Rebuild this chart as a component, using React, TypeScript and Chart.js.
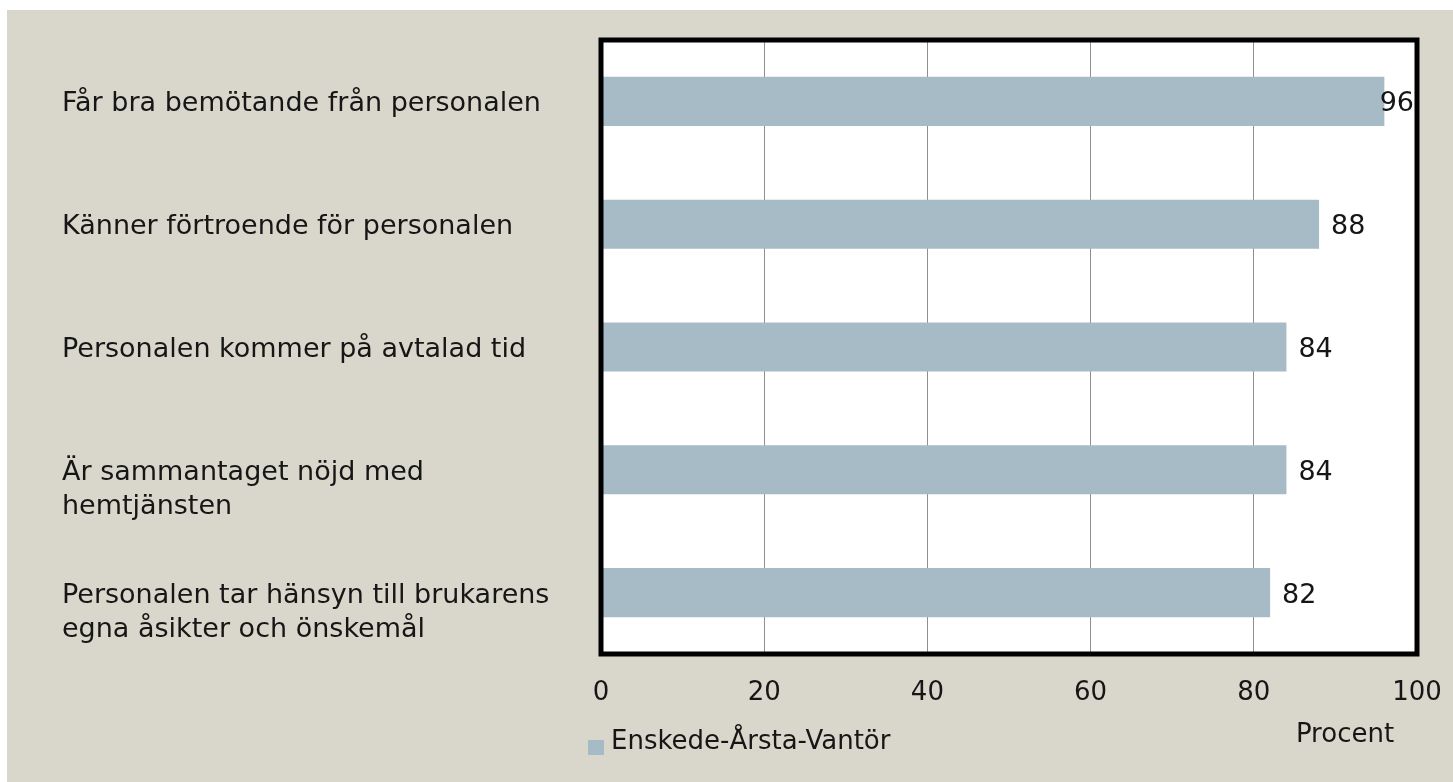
import React, { useEffect, useRef } from 'react';
import { Chart, registerables } from 'chart.js';

Chart.register(...registerables);

// ---- data ----
const categories: string[][] = [
  ['Får bra bemötande från personalen'],
  ['Känner förtroende för personalen'],
  ['Personalen kommer på avtalad tid'],
  ['Är sammantaget nöjd med', 'hemtjänsten'],
  ['Personalen tar hänsyn till brukarens', 'egna åsikter och önskemål'],
];
const seriesName = 'Enskede-Årsta-Vantör';
const values = [96, 88, 84, 84, 82];
const xTicks = [0, 20, 40, 60, 80, 100];
const axisTitle = 'Procent';

// ---- styles ----
const FONT = '"DejaVu Sans", sans-serif';
const TEXT = '#161616';
const BAR = '#A7BBC6';
const BG = '#D9D7CB';
const W = 1453;
const H = 782;

const decorPlugin = {
  id: 'decor',
  beforeDraw(chart: any) {
    const { ctx, chartArea: a } = chart;
    ctx.save();
    ctx.fillStyle = '#ffffff';
    ctx.fillRect(0, 0, W, H);
    ctx.fillStyle = BG;
    ctx.fillRect(7, 10, W - 7, H - 10);
    ctx.fillStyle = '#ffffff';
    ctx.fillRect(a.left, a.top, a.right - a.left, a.bottom - a.top);
    ctx.restore();
  },
  afterDatasetsDraw(chart: any) {
    const { ctx, chartArea: a, scales } = chart;
    const ys = scales.y;
    const xs = scales.x;
    ctx.save();
    // plot border
    ctx.lineWidth = 5;
    ctx.strokeStyle = '#000000';
    ctx.lineJoin = 'miter';
    ctx.strokeRect(a.left, a.top, a.right - a.left, a.bottom - a.top);

    // category labels (first line centred on the bar)
    ctx.fillStyle = TEXT;
    ctx.font = `27px ${FONT}`;
    ctx.textAlign = 'left';
    ctx.textBaseline = 'alphabetic';
    categories.forEach((lines, i) => {
      const cy = ys.getPixelForValue(i);
      lines.forEach((ln, j) => ctx.fillText(ln, 62, cy + 10 + j * 34));
    });

    // data labels
    ctx.font = `27px ${FONT}`;
    values.forEach((v, i) => {
      const cy = ys.getPixelForValue(i);
      const txt = String(v);
      const w = ctx.measureText(txt).width;
      let x = xs.getPixelForValue(v) + 12;
      if (x + w > a.right - 3) x = a.right - 3 - w;
      ctx.fillText(txt, x, cy + 10);
    });

    // axis title
    ctx.font = `26px ${FONT}`;
    ctx.textAlign = 'center';
    ctx.fillText(axisTitle, a.right - 72, a.bottom + 88);

    // legend
    const ds = chart.data.datasets[0];
    ctx.fillStyle = ds.backgroundColor;
    ctx.fillRect(a.left - 13, a.bottom + 86, 16, 15);
    ctx.fillStyle = TEXT;
    ctx.textAlign = 'left';
    ctx.fillText(ds.label, a.left + 10, a.bottom + 95);
    ctx.restore();
  },
};

export default function App() {
  const ref = useRef<HTMLCanvasElement | null>(null);
  useEffect(() => {
    if (!ref.current) return;
    const chart = new Chart(ref.current, {
      type: 'bar',
      data: {
        labels: categories.map((c) => c.join(' ')),
        datasets: [
          {
            label: seriesName,
            data: values,
            backgroundColor: BAR,
            barPercentage: 0.4,
            categoryPercentage: 1,
          },
        ],
      },
      options: {
        indexAxis: 'y',
        responsive: false,
        maintainAspectRatio: false,
        animation: false,
        layout: { padding: { top: 40, right: 36, left: 0, bottom: 0 } },
        plugins: { legend: { display: false }, tooltip: { enabled: false } },
        scales: {
          x: {
            min: 0,
            max: 100,
            afterBuildTicks: (s: any) => {
              s.ticks = xTicks.map((v) => ({ value: v }));
            },
            ticks: { color: TEXT, font: { family: FONT, size: 26 }, padding: 24 },
            grid: { color: '#8f8f8f', lineWidth: 1, drawTicks: false },
            border: { display: false },
            afterFit: (s: any) => {
              s.height = 128;
              s.paddingLeft = 0;
              s.paddingRight = 0;
            },
          },
          y: {
            ticks: { display: false },
            grid: { display: false },
            border: { display: false },
            afterFit: (s: any) => {
              s.width = 601;
              s.paddingTop = 0;
              s.paddingBottom = 0;
            },
          },
        },
      },
      plugins: [decorPlugin],
    } as any);
    return () => chart.destroy();
  }, []);
  return (
    <div style={{ position: 'absolute', left: 0, top: 0, width: W, height: H }}>
      <canvas ref={ref} width={W} height={H} style={{ display: 'block' }} />
    </div>
  );
}
